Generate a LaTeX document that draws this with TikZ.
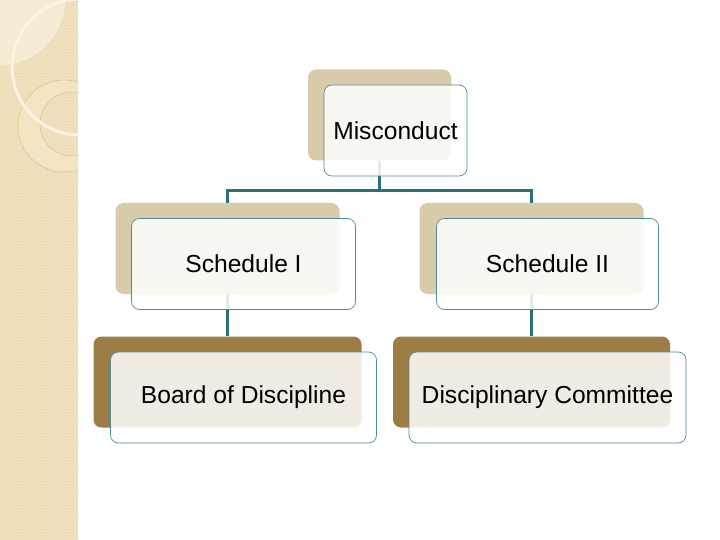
\documentclass[tikz,border=0pt]{standalone}
\usepackage{fontspec}
\setmainfont{Liberation Sans}
\usetikzlibrary{patterns}
\definecolor{tanbox}{HTML}{D8CBA9}
\definecolor{brownbox}{HTML}{9B7D45}
\definecolor{linkteal}{HTML}{2E6F7F}
\definecolor{rimteal}{HTML}{4C8C9C}
\definecolor{sand}{HTML}{F1E2BF}
\definecolor{sanddot}{HTML}{E6D3A8}
\definecolor{sandlight}{HTML}{F6ECD4}
\definecolor{creamline}{HTML}{FBF4E2}
\definecolor{ringline}{HTML}{D9C497}
\definecolor{ringfill}{HTML}{F3E5C4}

\begin{document}
\begin{tikzpicture}[x=1pt,y=-1pt,
  backbox/.style={rectangle,rounded corners=8pt,fill=#1,minimum height=91pt,inner sep=0pt},
  backbox/.default=tanbox,
  frontbox/.style={rectangle,rounded corners=8pt,draw=rimteal,line width=0.7pt,fill=white,fill opacity=0.86,text opacity=1,minimum height=91pt,inner sep=0pt,font=\fontsize{24.6}{28}\selectfont},
  level distance=133.5pt,
  level 1/.style={sibling distance=304pt},
  edge from parent/.style={draw=linkteal,line width=3pt},
  edge from parent path={(\tikzparentnode.south) -- ++(0,30) -| (\tikzchildnode.north)}]
\useasboundingbox (0,0) rectangle (720,540);
\fill[white] (0,0) rectangle (720,540);
\fill[sand] (0,0) rectangle (78,540);
\fill[pattern=crosshatch dots,pattern color=sanddot] (0,0) rectangle (78,540);
\begin{scope}
  \clip (0,0) rectangle (78,540);
  \fill[sandlight] (0,0) -- (65,0) arc[start angle=0,end angle=90,radius=65] -- cycle;
  \fill[ringfill,even odd rule] (64,126) circle[radius=46] (72,124) circle[radius=32];
  \draw[ringline,line width=0.6pt] (64,126) circle[radius=46] (72,124) circle[radius=32];
  \draw[creamline,line width=3pt] (80,67) circle[radius=68];
\end{scope}
\node[backbox,minimum width=143pt] (mis) at (379.5,115) {}
  child {node[backbox,minimum width=224pt] (sch1) {}
    child {node[backbox=brownbox,minimum width=268pt] (bod) {}}
  }
  child {node[backbox,minimum width=224pt] (sch2) {}
    child {node[backbox=brownbox,minimum width=277pt] (dc) {}}
  };
\foreach \n/\w/\t in {mis/143/Misconduct,sch1/224/Schedule I,sch2/222/Schedule II,bod/266/Board of Discipline,dc/277/Disciplinary Committee}
  \node[frontbox,minimum width=\w pt] (\n-f) at ([shift={(16,15.5)}]\n.center) {\t};
\end{tikzpicture}
\end{document}
